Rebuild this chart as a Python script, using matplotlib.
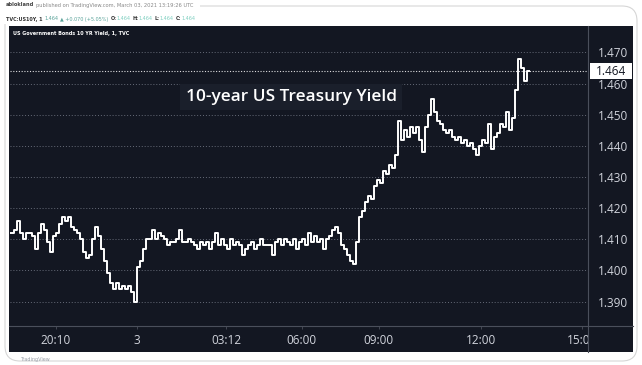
import matplotlib.pyplot as plt
from matplotlib import transforms
from matplotlib.patches import FancyBboxPatch, Rectangle

W, H = 642, 365

# 1-minute US10Y closes, sampled every third bar (session gaps compressed)
yields = [
    1.412, 1.412, 1.413, 1.416, 1.412, 1.410, 1.412, 1.412, 1.411, 1.407,
    1.412, 1.415, 1.413, 1.409, 1.406, 1.411, 1.412, 1.415, 1.417, 1.416,
    1.417, 1.414, 1.413, 1.412, 1.410, 1.406, 1.404, 1.405, 1.410, 1.414,
    1.411, 1.407, 1.403, 1.399, 1.396, 1.394, 1.396, 1.394, 1.395, 1.394,
    1.395, 1.393, 1.390, 1.401, 1.403, 1.407, 1.410, 1.410, 1.413, 1.410,
    1.412, 1.411, 1.410, 1.408, 1.409, 1.409, 1.410, 1.413, 1.409, 1.409,
    1.410, 1.409, 1.408, 1.407, 1.409, 1.408, 1.409, 1.407, 1.409, 1.412,
    1.408, 1.410, 1.408, 1.407, 1.410, 1.408, 1.409, 1.408, 1.405, 1.407,
    1.408, 1.409, 1.407, 1.408, 1.410, 1.408, 1.408, 1.408, 1.405, 1.409,
    1.410, 1.408, 1.410, 1.409, 1.408, 1.410, 1.407, 1.409, 1.410, 1.408,
    1.412, 1.409, 1.411, 1.409, 1.410, 1.407, 1.410, 1.411, 1.413, 1.414,
    1.412, 1.408, 1.407, 1.405, 1.403, 1.402,
    1.409, 1.417, 1.419, 1.422, 1.424, 1.423, 1.427, 1.429, 1.428, 1.432,
    1.431, 1.434, 1.433, 1.437, 1.448, 1.442, 1.445, 1.443, 1.446, 1.444,
    1.446, 1.442, 1.438, 1.446, 1.450, 1.455, 1.451, 1.448, 1.447, 1.445,
    1.444, 1.445, 1.443, 1.442, 1.443, 1.441, 1.442, 1.440, 1.441, 1.439,
    1.437, 1.440, 1.442, 1.441, 1.447, 1.439, 1.443, 1.444, 1.447, 1.446,
    1.451, 1.445, 1.449, 1.458, 1.468, 1.465, 1.461, 1.464,
]
bars = list(range(len(yields)))

time_ticks = [15.3, 42.3, 72.0, 97.2, 123.0, 157.0, 190.6]
time_labels = ["20:10", "3", "03:12", "06:00", "09:00", "12:00", "15:00"]
price_ticks = [1.390, 1.400, 1.410, 1.420, 1.430, 1.440, 1.450, 1.460, 1.470]
last_price = 1.464

# snapshot header: (text, colour, weight, gap before in points)
header1 = [
    ("ablokland", "#444444", "bold", 0),
    ("published on TradingView.com, March 03, 2021 13:19:26 UTC",
     "#888888", "normal", 1.5),
]
header2 = [
    ("TVC:US10Y, 1", "#333333", "bold", 0),
    ("1.464", "#5aa39a", "normal", 1.5),
    ("\u25b2 +0.070 (+5.05%)", "#5aa39a", "normal", 1.0),
    ("O:", "#333333", "bold", 1.5),
    ("1.464", "#7fcfc0", "normal", 0.3),
    ("H:", "#333333", "bold", 1.2),
    ("1.464", "#7fcfc0", "normal", 0.3),
    ("L:", "#333333", "bold", 1.2),
    ("1.464", "#7fcfc0", "normal", 0.3),
    ("C:", "#333333", "bold", 1.2),
    ("1.464", "#7fcfc0", "normal", 0.3),
]

BG = "#131722"
TXT = "#d1d4dc"
EDGE = "#4a4f5b"


def inch(x, y):
    # pixel position (from top-left) -> inches for dpi_scale_trans
    return x / 100, (H - y) / 100


fig = plt.figure(figsize=(W / 100, H / 100), dpi=100)
fig.patch.set_facecolor("white")
it = fig.dpi_scale_trans

# outer rounded frame and dark chart panel
fig.add_artist(FancyBboxPatch(inch(5, 361), 6.32, 3.55, transform=it,
                              boxstyle="round,pad=0,rounding_size=0.15",
                              fc="white", ec="#d6d6d6", lw=0.8, zorder=-3))
fig.add_artist(Rectangle(inch(9, 352), 6.24, 3.26, transform=it,
                         fc=BG, ec="none", zorder=-2))

ax = fig.add_axes([10 / W, (H - 326) / H, 578 / W, 300 / H])
ax.set_facecolor("none")
ax.plot(bars, yields, color="white", lw=1.4, drawstyle="steps-mid",
        zorder=3)
ax.axhline(last_price, color="white", lw=0.8, ls=(0, (1, 1.5)), alpha=0.85,
           zorder=2)

ax.set_xlim(0, 192.7)
ax.set_ylim(1.38213, 1.47851)
ax.set_xticks(time_ticks)
ax.set_xticklabels(time_labels)
ax.set_yticks(price_ticks)
ax.set_yticklabels([f"{p:.3f}" for p in price_ticks])
ax.yaxis.tick_right()
ax.grid(axis="y", color="#666b78", lw=0.7, ls=(0, (1, 2)))
ax.tick_params(axis="y", length=0, pad=7, labelsize=8.5, labelcolor=TXT)
ax.tick_params(axis="x", length=2, width=0.6, color=EDGE, pad=4,
               labelsize=8.5, labelcolor=TXT)
for lab in ax.get_xticklabels() + ax.get_yticklabels():
    lab.set_family("Open Sans")
for s in ax.spines.values():
    s.set_visible(False)

# last price marker on the price scale
tr = transforms.blended_transform_factory(ax.transAxes, ax.transData)
ax.add_patch(Rectangle((1.0035, last_price - 0.0025), 0.0727, 0.005,
                       transform=tr, fc="white", ec="none", clip_on=False,
                       zorder=5))
ax.text(1.039, last_price, f"{last_price:.3f}", transform=tr, ha="center",
        va="center", fontsize=8.5, family="Open Sans", color="#131722",
        zorder=6)

# price/time scale separators; hide the clipped "15:00" overflow
fig.add_artist(Rectangle(inch(589, 351.5), 0.43, 0.25, transform=it,
                         fc=BG, ec="none", zorder=3))
fig.add_artist(plt.Line2D([5.88, 5.88], [(H - 352) / 100, (H - 26) / 100],
                          transform=it, color=EDGE, lw=0.8, zorder=4))
fig.add_artist(plt.Line2D([0.09, 6.33], [(H - 326) / 100] * 2,
                          transform=it, color=EDGE, lw=0.8, zorder=4))

fig.text(13 / W, 1 - 34 / H, "US Government Bonds 10 YR Yield, 1, TVC",
         fontsize=3.5, weight="bold", color="white", va="center")
fig.text(291 / W, 1 - 97 / H, "10-year US Treasury Yield", ha="center",
         va="center", fontsize=12.4, family="Open Sans", weight="semibold",
         color="white",
         bbox=dict(boxstyle="square,pad=0.3", fc="#1a1f2b", ec="none"))

# header rows, each piece anchored to the right end of the previous one
fig.add_artist(Rectangle((0, (H - 24) / 100), 2.0, 0.24, transform=it,
                         fc="white", ec="none", zorder=-1))
for y, size, row in [(5, 3.7, header1), (19, 3.5, header2)]:
    s, c, w, _ = row[0]
    prev = fig.text(6 / W, 1 - y / H, s, fontsize=size, color=c, weight=w,
                    va="center")
    for s, c, w, gap in row[1:]:
        prev = ax.annotate(s, xy=(1, 0.5), xycoords=prev, xytext=(gap, 0),
                           textcoords="offset points", fontsize=size,
                           color=c, weight=w, va="center",
                           annotation_clip=False)
fig.text(20 / W, 1 - 359 / H, "TradingView", fontsize=3.5, color="#9aa0aa",
         va="center")

fig.savefig("out.png", dpi=100, facecolor="white")
